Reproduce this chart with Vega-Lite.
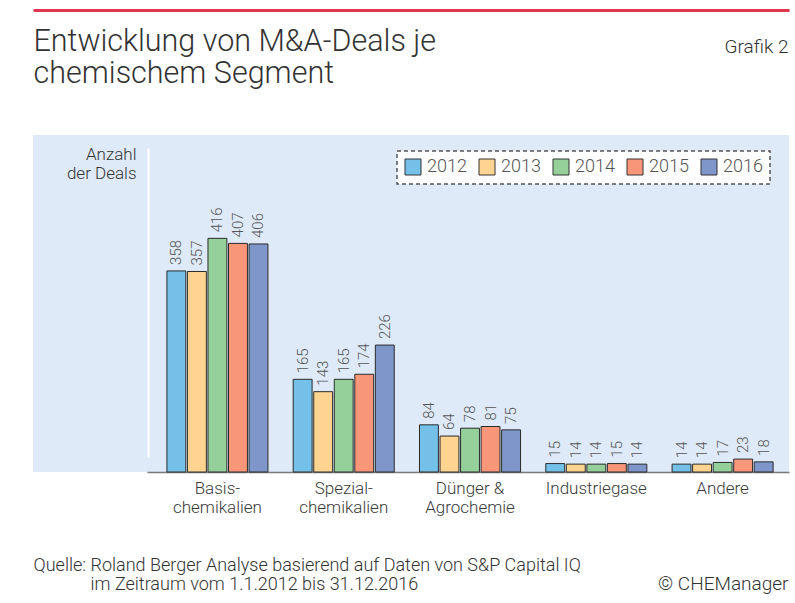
{
  "$schema": "https://vega.github.io/schema/vega-lite/v6.json",
  "width": 756,
  "height": 337,
  "autosize": {"type": "none"},
  "padding": {"left": 33, "top": 135, "right": 6, "bottom": 131},
  "background": "white",
  "config": {
    "view": {"stroke": null, "fill": "#deeaf7"},
    "font": "Roboto",
    "axis": {"grid": false, "ticks": false, "labelFont": "Roboto", "titleFont": "Roboto", "labelFontWeight": 300, "titleFontWeight": 300}
  },
  "data": {
    "values": [
      {"Segment": "Basischemikalien", "Jahr": "2012", "Anzahl": 358},
      {"Segment": "Basischemikalien", "Jahr": "2013", "Anzahl": 357},
      {"Segment": "Basischemikalien", "Jahr": "2014", "Anzahl": 416},
      {"Segment": "Basischemikalien", "Jahr": "2015", "Anzahl": 407},
      {"Segment": "Basischemikalien", "Jahr": "2016", "Anzahl": 406},
      {"Segment": "Spezialchemikalien", "Jahr": "2012", "Anzahl": 165},
      {"Segment": "Spezialchemikalien", "Jahr": "2013", "Anzahl": 143},
      {"Segment": "Spezialchemikalien", "Jahr": "2014", "Anzahl": 165},
      {"Segment": "Spezialchemikalien", "Jahr": "2015", "Anzahl": 174},
      {"Segment": "Spezialchemikalien", "Jahr": "2016", "Anzahl": 226},
      {"Segment": "Dünger & Agrochemie", "Jahr": "2012", "Anzahl": 84},
      {"Segment": "Dünger & Agrochemie", "Jahr": "2013", "Anzahl": 64},
      {"Segment": "Dünger & Agrochemie", "Jahr": "2014", "Anzahl": 78},
      {"Segment": "Dünger & Agrochemie", "Jahr": "2015", "Anzahl": 81},
      {"Segment": "Dünger & Agrochemie", "Jahr": "2016", "Anzahl": 75},
      {"Segment": "Industriegase", "Jahr": "2012", "Anzahl": 15},
      {"Segment": "Industriegase", "Jahr": "2013", "Anzahl": 14},
      {"Segment": "Industriegase", "Jahr": "2014", "Anzahl": 14},
      {"Segment": "Industriegase", "Jahr": "2015", "Anzahl": 15},
      {"Segment": "Industriegase", "Jahr": "2016", "Anzahl": 14},
      {"Segment": "Andere", "Jahr": "2012", "Anzahl": 14},
      {"Segment": "Andere", "Jahr": "2013", "Anzahl": 14},
      {"Segment": "Andere", "Jahr": "2014", "Anzahl": 17},
      {"Segment": "Andere", "Jahr": "2015", "Anzahl": 23},
      {"Segment": "Andere", "Jahr": "2016", "Anzahl": 18}
    ]
  },
  "layer": [
    {
      "mark": {"type": "bar", "stroke": "#2b2b2b", "strokeWidth": 1},
      "encoding": {
        "x": {
          "field": "Segment", "type": "nominal",
          "sort": ["Basischemikalien", "Spezialchemikalien", "Dünger & Agrochemie", "Industriegase", "Andere"],
          "scale": {"paddingInner": 0.2, "paddingOuter": 0.593, "align": 0.894},
          "axis": {
            "orient": "bottom",
            "labelExpr": "datum.value == 'Basischemikalien' ? ['Basis-','chemikalien'] : datum.value == 'Spezialchemikalien' ? ['Spezial-','chemikalien'] : datum.value == 'Dünger & Agrochemie' ? ['Dünger &','Agrochemie'] : datum.label",
            "labelAngle": 0, "labelFontSize": 17, "labelColor": "#3a3a3a", "labelPadding": 8, "labelLineHeight": 19, "labelBaseline": "top",
            "domain": true, "domainColor": "#7a7a7a", "domainWidth": 1.5, "domainDash": [0, 114, 900, 0],
            "title": ["Quelle: Roland Berger Analyse basierend auf Daten von S&P Capital IQ", "\u200b\u00a0\u00a0\u00a0\u00a0\u00a0\u00a0\u00a0\u00a0\u00a0\u00a0\u00a0\u00a0\u00a0im Zeitraum vom 1.1.2012 bis 31.12.2016"],
            "titleX": 0, "titleY": 98, "titleAlign": "left", "titleBaseline": "alphabetic",
            "titleFontSize": 18, "titleLineHeight": 19.5, "titleColor": "#333333"
          }
        },
        "xOffset": {"field": "Jahr", "type": "nominal", "scale": {"paddingInner": 0.08, "paddingOuter": 0}},
        "y": {
          "field": "Anzahl", "type": "quantitative",
          "scale": {"domain": [0, 600]},
          "axis": {
            "orient": "left", "offset": -115, "labels": false, "ticks": false,
            "domainColor": "white", "domainWidth": 2, "domainDash": [0, 15, 309, 13],
            "title": ["Anzahl", "der Deals"], "titleAngle": 0, "titleX": -12, "titleY": 24,
            "titleAlign": "right", "titleBaseline": "alphabetic", "titleFontSize": 17, "titleLineHeight": 19, "titleColor": "#333333"
          }
        },
        "color": {
          "field": "Jahr", "type": "nominal",
          "scale": {"domain": ["2012", "2013", "2014", "2015", "2016"], "range": ["#74c0e9", "#ffd490", "#95d09b", "#f8967a", "#7f96cb"]},
          "legend": {
            "orient": "none", "legendX": 364, "legendY": 16, "direction": "horizontal", "title": null,
            "symbolType": "square", "symbolSize": 256, "symbolStrokeColor": "#333333", "symbolStrokeWidth": 1, "symbolOpacity": 1,
            "labelFont": "Roboto", "labelFontWeight": 300, "labelFontSize": 18, "labelColor": "#555555", "labelOffset": 5,
            "columnPadding": 10, "padding": 7, "strokeColor": "#555555", "fillColor": "white",
            "encode": {"legend": {"update": {"strokeDash": {"value": [4, 3]}, "strokeWidth": {"value": 1.5}}}}
          }
        }
      }
    },
    {
      "mark": {"type": "text", "angle": 270, "align": "left", "baseline": "middle", "dx": 6, "fontSize": 15, "color": "#555555", "font": "Roboto", "fontWeight": 300},
      "encoding": {
        "x": {
          "field": "Segment", "type": "nominal",
          "sort": ["Basischemikalien", "Spezialchemikalien", "Dünger & Agrochemie", "Industriegase", "Andere"],
          "axis": {
            "orient": "top", "offset": 125, "labels": false, "ticks": false,
            "domain": true, "domainColor": "#e0354f", "domainWidth": 3,
            "title": ["Entwicklung von M&A-Deals je", "chemischem Segment"],
            "titleX": 0, "titleY": 40, "titleAlign": "left", "titleBaseline": "alphabetic",
            "titleFontSize": 30.5, "titleLineHeight": 32, "titleColor": "#333333"
          }
        },
        "xOffset": {"field": "Jahr", "type": "nominal"},
        "y": {
          "field": "Anzahl", "type": "quantitative",
          "axis": {
            "orient": "right", "labels": false, "domain": false, "ticks": false,
            "title": ["Grafik 2", "© CHEManager"], "titleAngle": 0, "titleX": -1, "titleY": -83,
            "titleAlign": "right", "titleBaseline": "alphabetic", "titleFontSize": 19, "titleLineHeight": 537, "titleColor": "#333333"
          }
        },
        "text": {"field": "Anzahl", "type": "quantitative"}
      }
    }
  ],
  "resolve": {"axis": {"x": "independent", "y": "independent"}}
}
